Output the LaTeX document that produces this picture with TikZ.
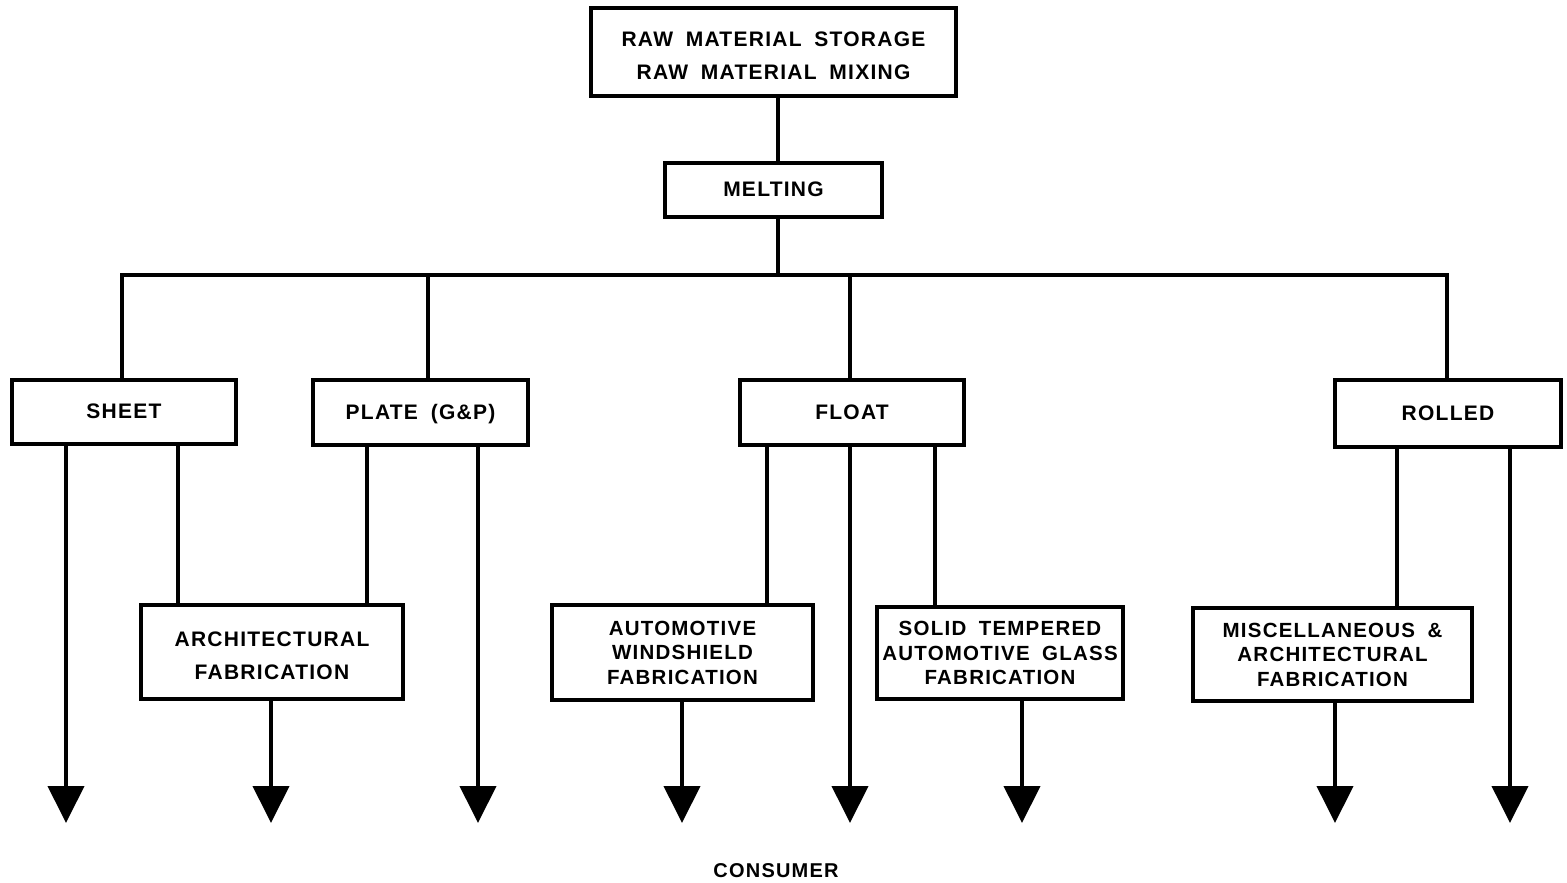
\documentclass[tikz,border=0pt]{standalone}
\usepackage{fontspec}
\setmainfont{Liberation Sans}[LetterSpace=6,WordSpace=1.8]
\usetikzlibrary{arrows.meta}
\begin{document}
\begin{tikzpicture}[x=1pt,y=-1pt,
  box/.style={draw,line width=3.5pt,rectangle,align=center,inner sep=0pt,
    font=\bfseries\fontsize{21}{33}\selectfont},
  tribox/.style={box,font=\bfseries\fontsize{20.5}{24.5}\selectfont},
  wire/.style={line width=4pt},
  flow/.style={line width=4pt,-{Triangle[width=36pt,length=37pt]}}]
\useasboundingbox (0,0) rectangle (1567,883);

% process stages
\node[box,minimum width=365pt,minimum height=88pt] (raw) at (773.5,52)
  {\strut RAW MATERIAL STORAGE\\RAW MATERIAL MIXING};
\node[box,minimum width=217pt,minimum height=54pt] (melt) at (773.5,190) {\strut MELTING};

\node[box,minimum width=224pt,minimum height=64pt] (sheet) at (124,412) {\strut SHEET};
\node[box,minimum width=215pt,minimum height=65pt] (plate) at (420.5,412.5) {\strut PLATE (G\&P)};
\node[box,minimum width=224pt,minimum height=65pt] (float) at (852,412.5) {\strut FLOAT};
\node[box,minimum width=226pt,minimum height=67pt] (rolled) at (1448,413.5) {\strut ROLLED};

\node[box,minimum width=262pt,minimum height=94pt] (arch) at (272,652)
  {\strut ARCHITECTURAL\\FABRICATION};
\node[tribox,minimum width=261pt,minimum height=95pt] (auto) at (682.5,652.5)
  {AUTOMOTIVE\\WINDSHIELD\\FABRICATION};
\node[tribox,minimum width=246pt,minimum height=92pt] (solid) at (1000,653)
  {SOLID TEMPERED\\AUTOMOTIVE GLASS\\FABRICATION};
\node[tribox,minimum width=279pt,minimum height=93pt] (misc) at (1332.5,654.5)
  {MISCELLANEOUS \&\\ARCHITECTURAL\\FABRICATION};

\node[font=\bfseries\fontsize{20}{22}\selectfont] (consumer) at (776,871) {CONSUMER};

% distribution bus
\coordinate (jm) at (778,275);
\coordinate (js) at (122,275);
\coordinate (jp) at (428,275);
\coordinate (jf) at (850,275);
\coordinate (jr) at (1447,275);

% arrow ends
\coordinate (e1) at (66,823);
\coordinate (e2) at (271,823);
\coordinate (e3) at (478,823);
\coordinate (e4) at (682,823);
\coordinate (e5) at (850,823);
\coordinate (e6) at (1022,823);
\coordinate (e7) at (1335,823);
\coordinate (e8) at (1510,823);

% branch points under the product boxes
\coordinate (s2) at (178,0);
\coordinate (p1) at (367,0);
\coordinate (f1) at (767,0);
\coordinate (f3) at (935,0);
\coordinate (r1) at (1397,0);

\draw[wire] (raw.south -| jm) -- (melt.north -| jm);
\draw[wire] (melt.south -| jm) -- (jm);
\draw[wire,line cap=rect] (js |- sheet.north) -- (js) -- (jr) -- (jr |- rolled.north);
\draw[wire] (jp) -- (jp |- plate.north);
\draw[wire] (jf) -- (jf |- float.north);

\draw[flow] (sheet.south -| e1) -- (e1);
\draw[wire] (sheet.south -| s2) -- (arch.north -| s2);
\draw[wire] (plate.south -| p1) -- (arch.north -| p1);
\draw[flow] (plate.south -| e3) -- (e3);
\draw[flow] (arch.south -| e2) -- (e2);

\draw[wire] (float.south -| f1) -- (auto.north -| f1);
\draw[flow] (float.south -| e5) -- (e5);
\draw[wire] (float.south -| f3) -- (solid.north -| f3);
\draw[flow] (auto.south -| e4) -- (e4);
\draw[flow] (solid.south -| e6) -- (e6);

\draw[wire] (rolled.south -| r1) -- (misc.north -| r1);
\draw[flow] (rolled.south -| e8) -- (e8);
\draw[flow] (misc.south -| e7) -- (e7);
\end{tikzpicture}
\end{document}
